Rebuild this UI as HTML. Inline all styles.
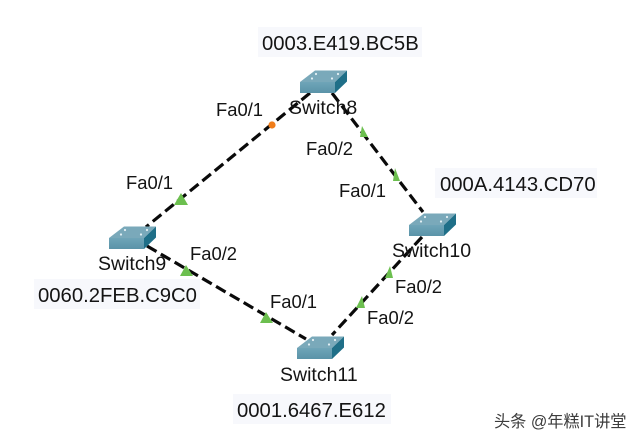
<!DOCTYPE html>
<html>
<head>
<meta charset="utf-8">
<style>
html,body{margin:0;padding:0;background:#fff;width:640px;height:443px;overflow:hidden}
svg{display:block}
text{font-family:"Liberation Sans","Noto Sans CJK SC",sans-serif;fill:#141414}
.m{font-size:20.3px}
.s{font-size:19.5px}
.p{font-size:18.4px}
.l{stroke:#0a0a0a;stroke-width:3.2;stroke-dasharray:11 5;fill:none}
.t{fill:#6cbf4f}
</style>
</head>
<body>
<svg width="640" height="443" viewBox="0 0 640 443" xmlns="http://www.w3.org/2000/svg">
<defs>
<linearGradient id="f" x1="0" y1="0" x2="0" y2="1"><stop offset="0" stop-color="#6fa5b8"/><stop offset="1" stop-color="#5a93a8"/></linearGradient>
<g id="sw">
<polygon points="0,0 15,-11.5 47,-11.5 35,0" fill="#7aa9ba"/>
<rect x="0" y="0" width="35" height="11" fill="url(#f)"/>
<polygon points="35,0 47,-11.5 47,-0.5 35,11" fill="#1f6f88"/>
<circle cx="16" cy="-8" r="1.1" fill="#e4f0f4"/><circle cx="38" cy="-8" r="1.1" fill="#e4f0f4"/>
<circle cx="12" cy="-3.5" r="1.1" fill="#e4f0f4"/><circle cx="32" cy="-3.5" r="1.1" fill="#e4f0f4"/>
</g>
</defs>
<rect width="640" height="443" fill="#fff"/>

<rect x="258" y="27" width="164" height="30" fill="#f7f8fc"/>
<rect x="34" y="279" width="166" height="30" fill="#f7f8fc"/>
<rect x="435" y="168" width="162" height="30" fill="#f7f8fc"/>
<rect x="233" y="394" width="158" height="30" fill="#f7f8fc"/>

<line class="l" x1="310" y1="93" x2="146" y2="227"/>
<line class="l" x1="332" y1="93" x2="423" y2="212"/>
<line class="l" x1="147" y1="246" x2="306" y2="339"/>
<line class="l" x1="422" y1="237" x2="332" y2="335"/>

<use href="#sw" x="300" y="82"/>
<use href="#sw" x="109" y="238"/>
<use href="#sw" x="409" y="225"/>
<use href="#sw" x="297" y="348"/>

<circle cx="272" cy="125" r="3.6" fill="#f07d1a"/>
<polygon class="t" points="181,193 188,205 174,205"/>
<polygon class="t" points="186,265 193,276 180,276"/>
<polygon class="t" points="266,312 273,323 260,323"/>
<polygon class="t" points="362,126 368,137 360,137"/>
<polygon class="t" points="395,168 400,181 393,181"/>
<polygon class="t" points="390,266 393,278 385,278"/>
<polygon class="t" points="362,296 365,308 356,308"/>

<text class="m" x="262" y="50">0003.E419.BC5B</text>
<text class="m" x="38" y="302">0060.2FEB.C9C0</text>
<text class="m" x="440" y="191">000A.4143.CD70</text>
<text class="m" x="237" y="417">0001.6467.E612</text>

<text class="s" x="289" y="114">Switch8</text>
<text class="s" x="98" y="270">Switch9</text>
<text class="s" x="392" y="257">Switch10</text>
<text class="s" x="280" y="381">Switch11</text>

<text class="p" x="216" y="116">Fa0/1</text>
<text class="p" x="306" y="155">Fa0/2</text>
<text class="p" x="126" y="189">Fa0/1</text>
<text class="p" x="190" y="260">Fa0/2</text>
<text class="p" x="339" y="197">Fa0/1</text>
<text class="p" x="395" y="293">Fa0/2</text>
<text class="p" x="367" y="324">Fa0/2</text>
<text class="p" x="270" y="308">Fa0/1</text>

<text x="494" y="427" style="font-size:16.2px;fill:#3c3c3c">头条 @年糕IT讲堂</text>
</svg>
</body>
</html>
